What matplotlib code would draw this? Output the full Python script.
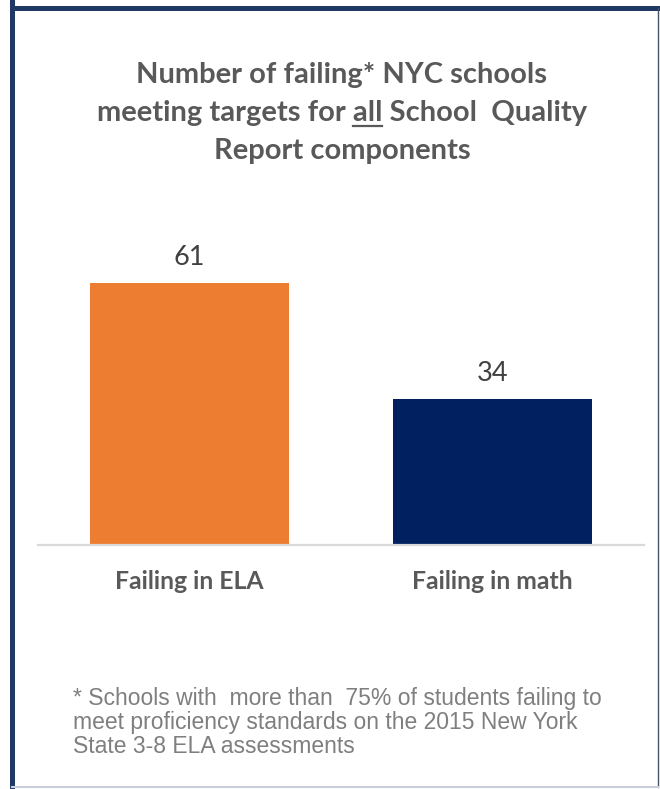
import matplotlib
matplotlib.use("Agg")
import matplotlib.pyplot as plt
from matplotlib.patches import Rectangle
from matplotlib.lines import Line2D

categories = ["Failing in ELA", "Failing in math"]
values = [61, 34]
bar_colors = ["#ED7D31", "#002060"]
title_lines = ["Number of failing* NYC schools",
               "meeting targets for all School  Quality",
               "Report components"]
underline_word = "all"
footnote_lines = ["* Schools with  more than  75% of students failing to",
                  "meet proficiency standards on the 2015 New York",
                  "State 3-8 ELA assessments"]

W, H = 660, 789
fig = plt.figure(figsize=(W / 100, H / 100), dpi=100)
fig.patch.set_facecolor("white")

def fx(px):
    return px / W

def fy(py):
    return 1 - py / H

# axes: x 38..644 px, baseline y=545
ymax = 80
px_per_unit = 262 / 61
top_px = 545 - ymax * px_per_unit
ax = fig.add_axes([fx(38), fy(545), fx(644) - fx(38), (545 - top_px) / H])
ax.set_xlim(-0.5, 1.5)
ax.set_ylim(0, ymax)
ax.bar(range(len(values)), values, width=0.66, color=bar_colors, zorder=2)
for s in ["top", "right", "left"]:
    ax.spines[s].set_visible(False)
ax.spines["bottom"].set_color("#D9D9D9")
ax.spines["bottom"].set_linewidth(1.6)
ax.set_xticks([])
ax.set_yticks([])
ax.patch.set_alpha(0)

title_font = "Lato"
for i, v in enumerate(values):
    ax.annotate(str(v), xy=(i, v), xytext=(0, 13), textcoords="offset points",
                ha="center", va="baseline", fontsize=19.5, color="#404040",
                family=title_font)
for i, c in enumerate(categories):
    ax.annotate(c, xy=(i, 0), xytext=(0, -31.7), textcoords="offset points",
                ha="center", va="baseline", fontsize=17.8, color="#595959",
                family=title_font, fontweight="bold")

# title
title_baselines = [83, 121, 159]
tkw = dict(ha="center", va="baseline", fontsize=21, color="#595959",
           family=title_font, fontweight="bold")
ttexts = []
for line, yb in zip(title_lines, title_baselines):
    ttexts.append(fig.text(fx(342), fy(yb), line, **tkw))

# underline "all"
fig.canvas.draw()
r = fig.canvas.get_renderer()
line2 = title_lines[1]
prefix = line2[: line2.index(underline_word) + len(underline_word)]
bb = ttexts[1].get_window_extent(r)
tmp1 = fig.text(0, 0, prefix, **tkw)
tmp2 = fig.text(0, 0, underline_word, **tkw)
w_prefix = tmp1.get_window_extent(r).width
w_word = tmp2.get_window_extent(r).width
tmp1.remove(); tmp2.remove()
x_end = bb.x0 + w_prefix
x_start = x_end - w_word
fig.add_artist(Line2D([x_start / W, x_end / W], [fy(126), fy(126)],
                      transform=fig.transFigure, color="#595959", lw=1.6))

# footnote
for line, yb in zip(footnote_lines, [705, 729, 753]):
    fig.text(fx(73), fy(yb), line, ha="left", va="baseline", fontsize=16.5,
             color="#7F7F7F", family="Liberation Sans")

# frame
fig.add_artist(Rectangle((fx(10), 0), fx(5), 1, transform=fig.transFigure,
                         color="#1F3864", lw=0))
fig.add_artist(Rectangle((fx(10), fy(11)), 1, 5 / H, transform=fig.transFigure,
                         color="#1F3864", lw=0))
fig.add_artist(Line2D([fx(657.5), fx(657.5)], [fy(787), fy(8)],
                      transform=fig.transFigure, color="#44546A", lw=1.0))
fig.add_artist(Line2D([fx(12), fx(658)], [fy(787), fy(787)],
                      transform=fig.transFigure, color="#C9CED8", lw=1.5))

fig.savefig("out.png", dpi=100, facecolor="white")
